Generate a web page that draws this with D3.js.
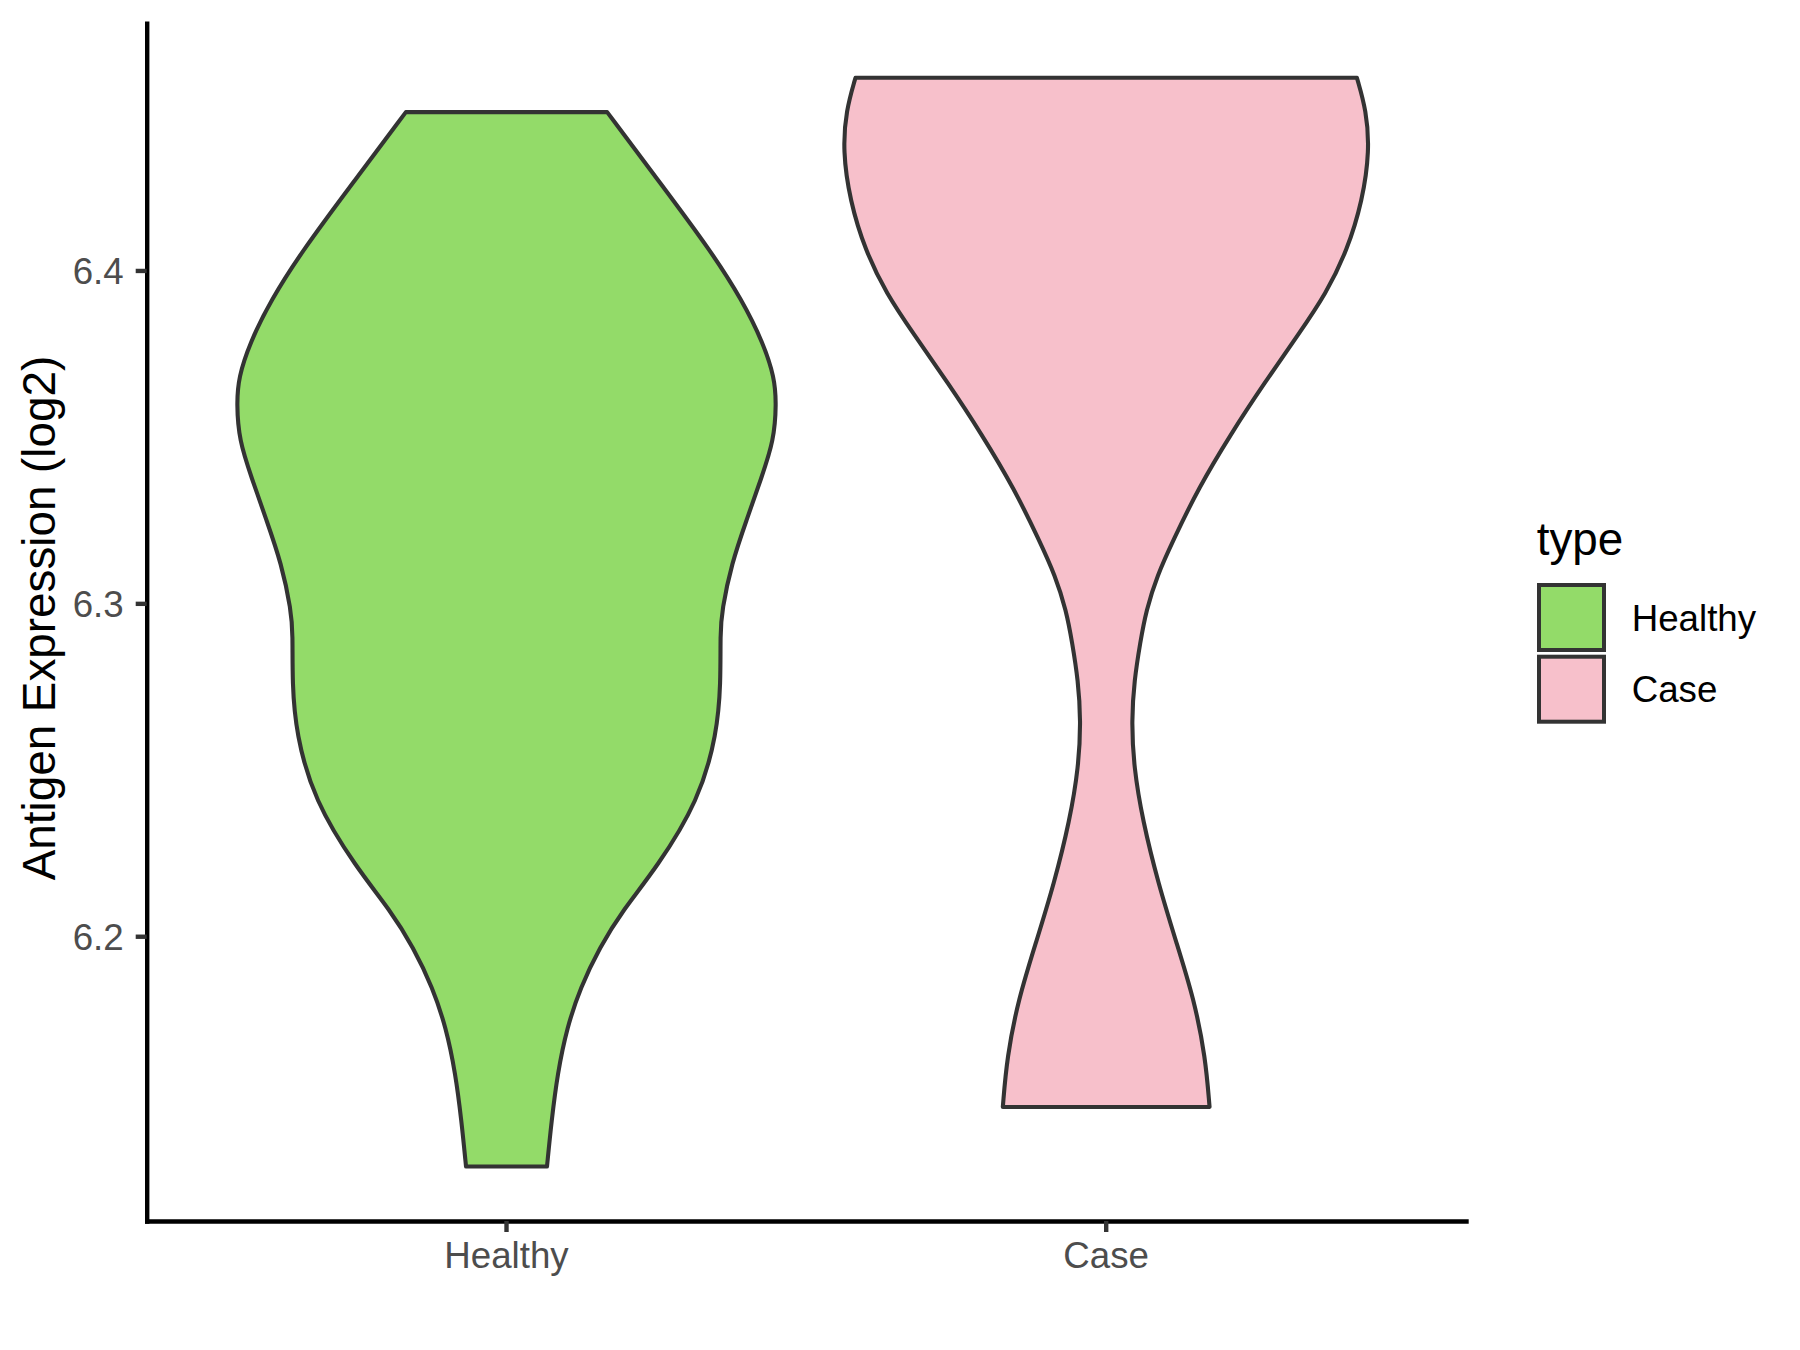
<!DOCTYPE html>
<html><head><meta charset="utf-8">
<script src="https://cdn.jsdelivr.net/npm/d3@7"></script>
<style>
body{margin:0;background:#fff}
text{font-family:"Liberation Sans",Arial,Helvetica,sans-serif}
</style>
</head><body>
<svg id="chart" width="1800" height="1350"></svg>
<script>
// ---- data ----
const categories = ["Healthy", "Case"];
const fillColors = ["#93DB69", "#F7C0CB"];

// violin profiles: y value and relative half-width (density, 1 = widest)
const healthyValues = [6.44756, 6.42614, 6.40601, 6.39099, 6.37807, 6.36785, 6.36004, 6.34893, 6.33781, 6.32489, 6.31197, 6.29785, 6.29094, 6.27592, 6.26090, 6.24077, 6.22064, 6.20772, 6.19660, 6.18459, 6.17257, 6.15875, 6.14463, 6.13081];
const healthyWidths = [0.373, 0.571, 0.756, 0.874, 0.952, 0.993, 1.000, 0.991, 0.945, 0.889, 0.834, 0.798, 0.792, 0.794, 0.780, 0.713, 0.557, 0.430, 0.345, 0.274, 0.224, 0.189, 0.167, 0.150];

const caseValues = [6.45789, 6.44807, 6.43605, 6.42103, 6.40601, 6.39309, 6.38107, 6.36605, 6.35103, 6.33450, 6.31888, 6.30837, 6.29785, 6.28824, 6.27682, 6.26480, 6.25098, 6.23476, 6.21583, 6.19841, 6.18098, 6.16356, 6.14872];
const caseWidths = [0.929, 0.964, 0.976, 0.950, 0.893, 0.815, 0.715, 0.585, 0.463, 0.341, 0.248, 0.189, 0.148, 0.126, 0.104, 0.094, 0.102, 0.135, 0.193, 0.259, 0.326, 0.368, 0.383];

const yTicks = [6.2, 6.3, 6.4];
const yTitle = "Antigen Expression (log2)";
const legendTitle = "type";

// ---- build ----
const series = [
  {cat: categories[0], fill: fillColors[0], vals: healthyValues, w: healthyWidths},
  {cat: categories[1], fill: fillColors[1], vals: caseValues, w: caseWidths}
];

const svg = d3.select("#chart");
const panel = {left: 146.7, right: 1466, top: 23.3, bottom: 1221};

const x = d3.scaleBand().domain(categories)
  .range([panel.left, panel.right]).paddingInner(0.1).paddingOuter(0.15);

const allVals = healthyValues.concat(caseValues);
const lo = d3.min(allVals), hi = d3.max(allVals), R = hi - lo;
const y = d3.scaleLinear().domain([lo - 0.05 * R, hi + 0.05 * R])
  .range([panel.bottom, panel.top]);

const w = d3.scaleLinear().domain([0, 1]).range([0, x.bandwidth() / 2]);

// violins
series.forEach(s => {
  const cx = x(s.cat) + x.bandwidth() / 2;
  const pts = s.vals.map((v, i) => ({v: v, d: s.w[i]}));
  const area = d3.area()
    .y(d => y(d.v))
    .x0(d => cx - w(d.d))
    .x1(d => cx + w(d.d))
    .curve(d3.curveBasis);
  svg.append("path")
    .attr("d", area(pts))
    .attr("fill", s.fill)
    .attr("stroke", "#333333")
    .attr("stroke-width", 4.1)
    .attr("stroke-linejoin", "round");
});

// axes
const yAxis = d3.axisLeft(y).tickValues(yTicks).tickFormat(d3.format(".1f"))
  .tickSize(11).tickSizeOuter(0).tickPadding(12);
const gy = svg.append("g").attr("transform", `translate(${panel.left},0)`).call(yAxis);

const xAxis = d3.axisBottom(x).tickSize(11).tickSizeOuter(0).tickPadding(10);
const gx = svg.append("g").attr("transform", `translate(0,${panel.bottom})`).call(xAxis);

[gx, gy].forEach(g => {
  g.select(".domain").attr("stroke", "#000").attr("stroke-width", 4.4).attr("stroke-linecap", "square");
  g.selectAll(".tick line").attr("stroke", "#333333").attr("stroke-width", 4.4);
  g.selectAll(".tick text").attr("fill", "#4D4D4D").attr("font-size", 36.7)
    .attr("font-family", '"Liberation Sans",Arial,sans-serif');
});
gy.selectAll(".tick text").attr("dy", "0.36em");
gx.selectAll(".tick text").attr("dy", "0.71em");

// y title
svg.append("text")
  .attr("transform", `translate(55,618) rotate(-90)`)
  .attr("text-anchor", "middle")
  .attr("font-size", 45.8)
  .attr("fill", "#000")
  .text(yTitle);

// legend
const lg = svg.append("g");
lg.append("text").attr("x", 1536.7).attr("y", 555)
  .attr("font-size", 45.8).attr("fill", "#000").text(legendTitle);
series.forEach((s, i) => {
  const ky = 585 + i * 71.7;
  lg.append("rect").attr("x", 1539).attr("y", ky).attr("width", 65).attr("height", 65)
    .attr("fill", s.fill).attr("stroke", "#333333").attr("stroke-width", 4);
  lg.append("text").attr("x", 1631.7).attr("y", ky + 32.5).attr("dy", "0.36em")
    .attr("font-size", 36.7).attr("fill", "#000").text(s.cat);
});
</script>
</body></html>
